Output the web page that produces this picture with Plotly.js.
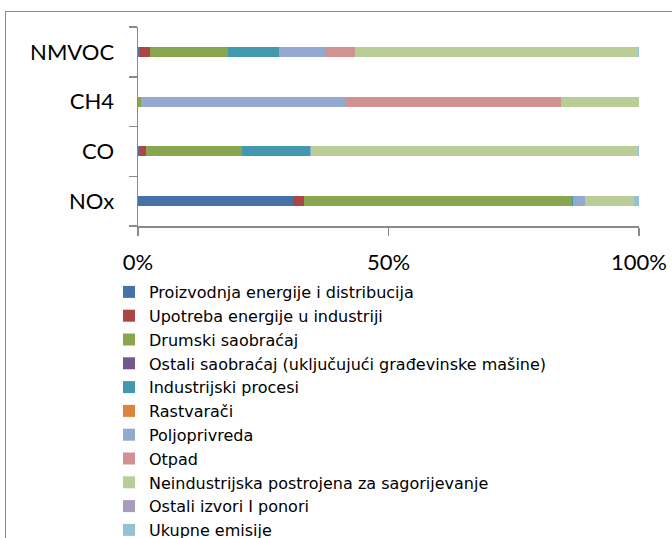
<!DOCTYPE html>
<html>
<head>
<meta charset="utf-8">
<script src="https://cdn.plot.ly/plotly-3.0.1.min.js"></script>
<style>
html,body{margin:0;padding:0;background:#fff;overflow:hidden;}
#frame{position:absolute;left:5px;top:11px;width:720px;height:600px;border:1.5px solid #8a8a8a;box-sizing:border-box;}
#chart{position:absolute;left:0;top:0;width:672px;height:538px;}
</style>
</head>
<body>
<div id="frame"></div>
<div id="chart"></div>
<script>
const categories = ["NOx", "CO", "CH4", "NMVOC"];
const seriesNames = [
  "Proizvodnja energije i distribucija",
  "Upotreba energije u industriji",
  "Drumski saobraćaj",
  "Ostali saobraćaj (uključujući građevinske mašine)",
  "Industrijski procesi",
  "Rastvarači",
  "Poljoprivreda",
  "Otpad",
  "Neindustrijska postrojena za sagorijevanje",
  "Ostali izvori I ponori",
  "Ukupne emisije"
];
// values per category in order NOx, CO, CH4, NMVOC (percent shares)
const proizvodnja   = [30.9, 0.3, 0.0, 0.3];
const upotreba      = [2.3, 1.2, 0.0, 2.0];
const drumski       = [53.4, 19.2, 0.5, 15.6];
const ostaliSaob    = [0.0, 0.0, 0.0, 0.0];
const industrijski  = [0.3, 13.7, 0.0, 10.3];
const rastvaraci    = [0.0, 0.0, 0.0, 0.0];
const poljoprivreda = [2.4, 0.1, 41.0, 9.2];
const otpad         = [0.0, 0.0, 42.9, 6.0];
const neindustrijska= [9.8, 65.2, 15.6, 56.3];
const ostaliIzvori  = [0.0, 0.0, 0.0, 0.0];
const ukupne        = [0.9, 0.3, 0.0, 0.3];
const xTickVals = [0, 50, 100];
const xTickText = ["0%", "50%", "100%"];

const seriesValues = [proizvodnja, upotreba, drumski, ostaliSaob, industrijski, rastvaraci,
  poljoprivreda, otpad, neindustrijska, ostaliIzvori, ukupne];
const colors = ["#4572A7", "#AA4643", "#89A54E", "#71588F", "#4198AF", "#DB843D",
  "#93A9CF", "#D19392", "#B9CD96", "#A99BBD", "#92C3D4"];

const traces = seriesNames.map((n, i) => ({
  type: "bar",
  orientation: "h",
  name: n,
  y: categories,
  x: seriesValues[i],
  marker: {color: colors[i], line: {width: 0}},
  hoverinfo: "name+x"
}));

const font = "Lato, 'Open Sans', sans-serif";
const legendFont = "'DejaVu Sans', 'Open Sans', sans-serif";
const layout = {
  width: 672, height: 538,
  paper_bgcolor: "rgba(0,0,0,0)",
  plot_bgcolor: "rgba(0,0,0,0)",
  barmode: "stack",
  barnorm: "percent",
  bargap: 0.8,
  margin: {l: 137.5, r: 33, t: 27, b: 312, autoexpand: false},
  font: {family: font, color: "#000"},
  xaxis: {
    range: [0, 100],
    tickvals: xTickVals, ticktext: xTickText,
    showgrid: false, zeroline: false,
    showline: true, linecolor: "#8a8a8a", linewidth: 1.5,
    ticks: "outside", ticklen: 8, tickcolor: "#8a8a8a", tickwidth: 1.5,
    ticklabelstandoff: 8,
    tickfont: {size: 22, family: font, color: "#000"}
  },
  yaxis: {
    type: "category",
    categoryorder: "array", categoryarray: categories,
    tickson: "boundaries",
    showgrid: false, zeroline: false,
    showline: true, linecolor: "#8a8a8a", linewidth: 1.5,
    ticks: "outside", ticklen: 8, tickcolor: "#8a8a8a", tickwidth: 1.5,
    ticklabelstandoff: 18,
    tickfont: {size: 22, family: font, color: "#000"}
  },
  showlegend: true,
  legend: {
    traceorder: "normal",
    orientation: "v",
    xref: "container", yref: "container",
    x: 109/672, y: 1 - 275/538,
    xanchor: "left", yanchor: "top",
    font: {size: 16, family: legendFont, color: "#000"},
    itemwidth: 30,
    bgcolor: "rgba(0,0,0,0)"
  }
};

Plotly.newPlot("chart", traces, layout, {displayModeBar: false, staticPlot: true});
</script>
</body>
</html>
